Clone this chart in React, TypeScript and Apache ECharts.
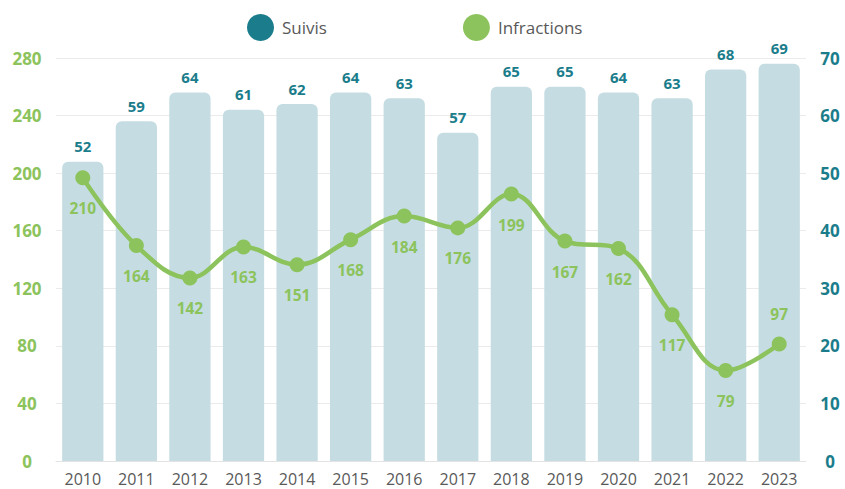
import React, { useEffect, useRef } from "react";
import * as echarts from "echarts";

const years = ["2010","2011","2012","2013","2014","2015","2016","2017","2018","2019","2020","2021","2022","2023"];
const suivis = [52,59,64,61,62,64,63,57,65,65,64,63,68,69];
const infractions = [210,164,142,163,151,168,184,176,199,167,162,117,79,97];
const labelAbove = ["2023"];

const TEAL = "#1B7D8B";
const GREEN = "#8CC35C";
const BAR = "#C5DDE2";
const FONT = "Open Sans";

export default function App() {
  const ref = useRef<HTMLDivElement>(null);
  useEffect(() => {
    document.body.style.margin = "0";
    const chart = echarts.init(ref.current!, null, { renderer: "svg" });
    chart.setOption({
      animation: false,
      textStyle: { fontFamily: FONT },
      legend: {
        top: 9,
        left: 242,
        itemWidth: 27,
        itemHeight: 27,
        itemGap: 136,
        icon: "circle",
        textStyle: { color: "#595959", fontSize: 17, fontFamily: FONT, padding: [0, 0, 0, 3] },
        data: [
          { name: "Suivis", itemStyle: { color: TEAL } },
          { name: "Infractions", itemStyle: { color: GREEN } },
        ],
      },
      grid: { left: 56, right: 39, top: 58, bottom: 28 },
      xAxis: {
        type: "category",
        data: years,
        axisTick: { show: false },
        axisLine: { lineStyle: { color: "#E3E3E3" } },
        axisLabel: { color: "#595959", fontSize: 16, fontFamily: FONT, margin: 10 },
      },
      yAxis: [
        {
          type: "value",
          min: 0,
          max: 280,
          interval: 40,
          position: "left",
          axisLine: { show: false },
          axisTick: { show: false },
          splitLine: { show: false },
          axisLabel: { color: GREEN, fontSize: 17, fontWeight: "bold", fontFamily: FONT, align: "center", margin: 29 },
        },
        {
          type: "value",
          min: 0,
          max: 70,
          interval: 10,
          position: "right",
          axisLine: { show: false },
          axisTick: { show: false },
          splitLine: { show: true, lineStyle: { color: "#EBEBEB", width: 1 } },
          axisLabel: { color: TEAL, fontSize: 17, fontWeight: "bold", fontFamily: FONT, align: "center", margin: 24 },
        },
        {
          type: "value",
          min: 17.5,
          max: 291.5,
          show: false,
          splitLine: { show: false },
        },
      ],
      series: [
        {
          name: "Suivis",
          type: "bar",
          yAxisIndex: 1,
          data: suivis,
          barCategoryGap: "23%",
          itemStyle: { color: BAR, borderRadius: [6, 6, 0, 0] },
          label: {
            show: true,
            position: "top",
            distance: 8,
            color: TEAL,
            fontSize: 15,
            fontWeight: "bold",
            fontFamily: FONT,
          },
        },
        {
          name: "Infractions",
          type: "line",
          yAxisIndex: 2,
          smooth: 0.4,
          symbol: "circle",
          symbolSize: 15,
          lineStyle: { color: GREEN, width: 4.5 },
          itemStyle: { color: GREEN },
          data: infractions.map((v, i) => ({
            value: v,
            label: { position: labelAbove.includes(years[i]) ? "top" : "bottom" },
          })),
          label: {
            show: true,
            position: "bottom",
            distance: 15,
            color: GREEN,
            fontSize: 15.5,
            fontWeight: "bold",
            fontFamily: FONT,
          },
          z: 5,
        },
      ],
    });
    return () => chart.dispose();
  }, []);
  return <div ref={ref} style={{ width: 845, height: 489 }} />;
}
